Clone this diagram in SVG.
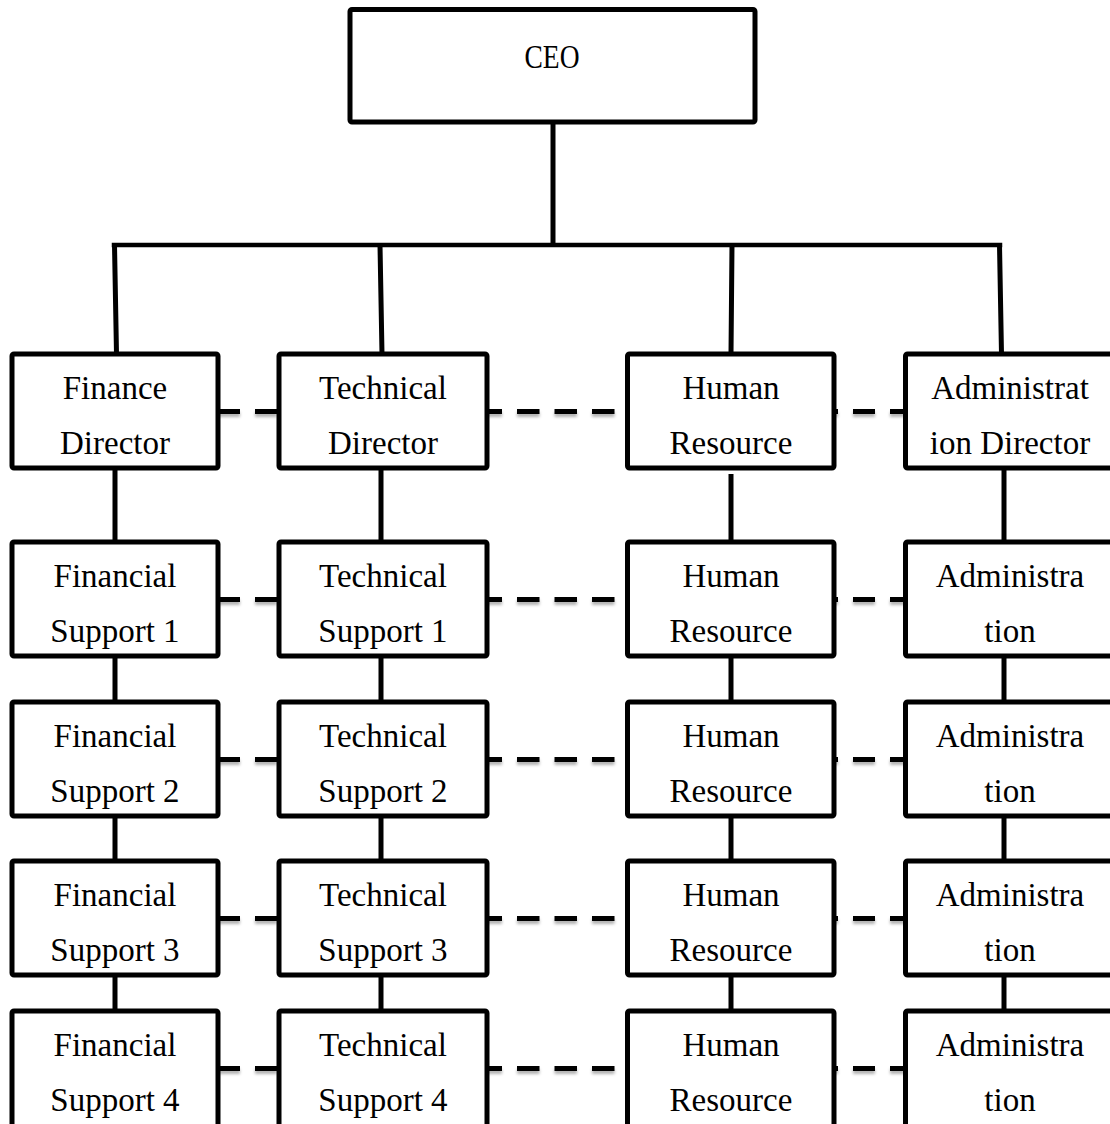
<svg xmlns="http://www.w3.org/2000/svg" width="1110" height="1124" viewBox="0 0 1110 1124">
<style>
.box{fill:#fff;stroke:#000;stroke-width:5;stroke-linejoin:round}
.lbl{font-family:"Liberation Serif","Times New Roman",serif;font-size:33px;fill:#000;text-anchor:middle}
.ln{stroke:#000;stroke-width:5;fill:none}
.bar{stroke:#000;stroke-width:4.5;fill:none;stroke-linecap:square}
.d1{stroke:#000;stroke-width:5;fill:none;stroke-dasharray:22 15;stroke-dashoffset:0}
.d2{stroke:#000;stroke-width:5;fill:none;stroke-dasharray:22.5 15;stroke-dashoffset:7.5}
.d3{stroke:#000;stroke-width:5;fill:none;stroke-dasharray:22 15;stroke-dashoffset:18}
</style>
<defs>
<filter id="sh" x="-10%" y="-200%" width="120%" height="500%">
<feDropShadow dx="0" dy="3" stdDeviation="1.8" flood-color="#000" flood-opacity="0.3"/>
</filter>
</defs>
<rect width="1110" height="1124" fill="#fff"/>
<g id="connectors">
<path class="ln" d="M553 122 V245"/>
<path class="bar" d="M114 245 H1000"/>
<path class="ln" d="M114.5 245 L116.5 354 M380 245 L382 354 M732 245 L731 354 M999.5 245 L1001.5 354"/>
<path class="ln" d="M115 468 V542 M115 656 V702 M115 816 V861 M115 975 V1011"/>
<path class="ln" d="M381 468 V542 M381 656 V702 M381 816 V861 M381 975 V1011"/>
<path class="ln" d="M731 474 V542 M731 656 V702 M731 816 V861 M731 975 V1011"/>
<path class="ln" d="M1004 468 V542 M1004 656 V702 M1004 816 V861 M1004 975 V1011"/>
<g filter="url(#sh)">
<path class="d1" d="M218 411.5 H279 M218 599.5 H279 M218 759.5 H279 M218 918.5 H279 M218 1068.5 H279"/>
<path class="d2" d="M487 411.5 H627.5 M487 599.5 H627.5 M487 759.5 H627.5 M487 918.5 H627.5 M487 1068.5 H627.5"/>
<path class="d3" d="M834 411.5 H905.5 M834 599.5 H905.5 M834 759.5 H905.5 M834 918.5 H905.5 M834 1068.5 H905.5"/>
</g>
</g>
<g id="ceo"><rect class="box" x="350" y="9.5" width="405" height="112.5" rx="2"/><text class="lbl" x="552" y="68" textLength="55" lengthAdjust="spacingAndGlyphs">CEO</text></g>
<g id="finance-director"><rect class="box" x="12" y="354" width="206" height="114" rx="2"/><text class="lbl" x="115" y="399">Finance</text><text class="lbl" x="115" y="454">Director</text></g>
<g id="technical-director"><rect class="box" x="279" y="354" width="208" height="114" rx="2"/><text class="lbl" x="383" y="399">Technical</text><text class="lbl" x="383" y="454">Director</text></g>
<g id="human-resource-director"><rect class="box" x="627.5" y="354" width="206.5" height="114" rx="2"/><text class="lbl" x="731" y="399">Human</text><text class="lbl" x="731" y="454">Resource</text></g>
<g id="administration-director"><rect class="box" x="905.5" y="354" width="212" height="114" rx="2"/><text class="lbl" x="1010" y="399">Administrat</text><text class="lbl" x="1010" y="454">ion Director</text></g>

<g id="financial-support-1"><rect class="box" x="12" y="542" width="206" height="114" rx="2"/><text class="lbl" x="115" y="586.5">Financial</text><text class="lbl" x="115" y="642">Support 1</text></g>
<g id="technical-support-1"><rect class="box" x="279" y="542" width="208" height="114" rx="2"/><text class="lbl" x="383" y="586.5">Technical</text><text class="lbl" x="383" y="642">Support 1</text></g>
<g id="human-resource-1"><rect class="box" x="627.5" y="542" width="206.5" height="114" rx="2"/><text class="lbl" x="731" y="586.5">Human</text><text class="lbl" x="731" y="642">Resource</text></g>
<g id="administration-1"><rect class="box" x="905.5" y="542" width="212" height="114" rx="2"/><text class="lbl" x="1010" y="586.5">Administra</text><text class="lbl" x="1010" y="642">tion</text></g>

<g id="financial-support-2"><rect class="box" x="12" y="702" width="206" height="114" rx="2"/><text class="lbl" x="115" y="746.5">Financial</text><text class="lbl" x="115" y="802">Support 2</text></g>
<g id="technical-support-2"><rect class="box" x="279" y="702" width="208" height="114" rx="2"/><text class="lbl" x="383" y="746.5">Technical</text><text class="lbl" x="383" y="802">Support 2</text></g>
<g id="human-resource-2"><rect class="box" x="627.5" y="702" width="206.5" height="114" rx="2"/><text class="lbl" x="731" y="746.5">Human</text><text class="lbl" x="731" y="802">Resource</text></g>
<g id="administration-2"><rect class="box" x="905.5" y="702" width="212" height="114" rx="2"/><text class="lbl" x="1010" y="746.5">Administra</text><text class="lbl" x="1010" y="802">tion</text></g>

<g id="financial-support-3"><rect class="box" x="12" y="861" width="206" height="114" rx="2"/><text class="lbl" x="115" y="905.5">Financial</text><text class="lbl" x="115" y="961">Support 3</text></g>
<g id="technical-support-3"><rect class="box" x="279" y="861" width="208" height="114" rx="2"/><text class="lbl" x="383" y="905.5">Technical</text><text class="lbl" x="383" y="961">Support 3</text></g>
<g id="human-resource-3"><rect class="box" x="627.5" y="861" width="206.5" height="114" rx="2"/><text class="lbl" x="731" y="905.5">Human</text><text class="lbl" x="731" y="961">Resource</text></g>
<g id="administration-3"><rect class="box" x="905.5" y="861" width="212" height="114" rx="2"/><text class="lbl" x="1010" y="905.5">Administra</text><text class="lbl" x="1010" y="961">tion</text></g>

<g id="financial-support-4"><rect class="box" x="12" y="1011" width="206" height="120" rx="2"/><text class="lbl" x="115" y="1055.5">Financial</text><text class="lbl" x="115" y="1111">Support 4</text></g>
<g id="technical-support-4"><rect class="box" x="279" y="1011" width="208" height="120" rx="2"/><text class="lbl" x="383" y="1055.5">Technical</text><text class="lbl" x="383" y="1111">Support 4</text></g>
<g id="human-resource-4"><rect class="box" x="627.5" y="1011" width="206.5" height="120" rx="2"/><text class="lbl" x="731" y="1055.5">Human</text><text class="lbl" x="731" y="1111">Resource</text></g>
<g id="administration-4"><rect class="box" x="905.5" y="1011" width="212" height="120" rx="2"/><text class="lbl" x="1010" y="1055.5">Administra</text><text class="lbl" x="1010" y="1111">tion</text></g>
</svg>
